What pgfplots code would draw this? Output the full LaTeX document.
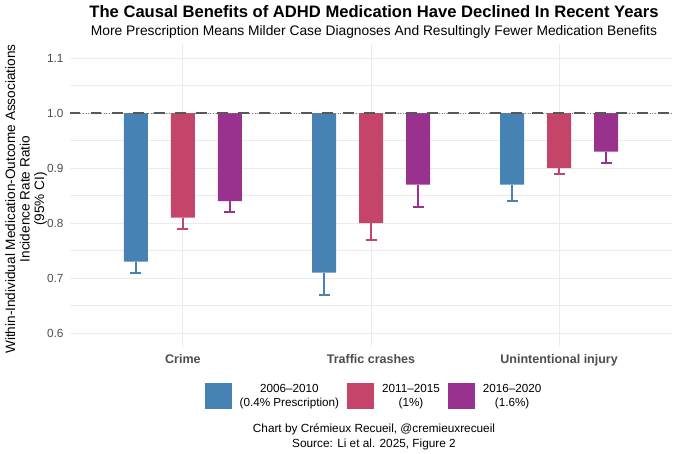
\documentclass[border=0pt]{standalone}
\usepackage{fontspec}
\setmainfont{Liberation Sans}
\usepackage{pgfplots}
\usepackage{pgfplotstable}
\pgfplotsset{compat=1.18}
\definecolor{cblue}{RGB}{70,130,180}
\definecolor{cred}{RGB}{196,69,105}
\definecolor{cpurp}{RGB}{153,50,142}
\definecolor{gridc}{RGB}{235,235,235}
\definecolor{tickc}{RGB}{77,77,77}
\definecolor{refc}{RGB}{88,88,88}
\pgfplotstableread{
x v lo
1 0.73 0.71
2 0.71 0.67
3 0.87 0.84
}\tabA
\pgfplotstableread{
x v lo
1 0.81 0.79
2 0.80 0.77
3 0.90 0.89
}\tabB
\pgfplotstableread{
x v lo
1 0.84 0.82
2 0.87 0.83
3 0.93 0.91
}\tabC
\begin{document}
\begin{tikzpicture}[x=1pt,y=1pt]
\path[use as bounding box] (0,0) rectangle (680,453);
\begin{axis}[
 at={(70pt,106.25pt)}, anchor=south west,
 scale only axis, width=602pt, height=302.5pt,
 xmin=0.4, xmax=3.6, ymin=-0.425, ymax=0.125,
 ybar=23pt, bar width=24pt,
 xtick={1,2,3}, xticklabels={Crime,Traffic crashes,Unintentional injury},
 ytick={-0.4,-0.3,-0.2,-0.1,0,0.1}, yticklabels={0.6,0.7,0.8,0.9,1.0,1.1},
 minor ytick={-0.35,-0.25,-0.15,-0.05,0.05},
 xmajorgrids, ymajorgrids, yminorgrids,
 major grid style={gridc, line width=0.9pt},
 minor grid style={gridc, line width=0.5pt},
 axis line style={draw=none}, tick style={draw=none}, minor tick style={draw=none},
 /pgf/number format/assume math mode=true,
 xticklabel style={font=\bfseries\fontsize{12.5}{14}\selectfont, text=tickc},
 yticklabel style={font=\fontsize{11.8}{13}\selectfont, text=tickc, xshift=-3pt},
 ylabel={Within-Individual Medication-Outcome Associations\\Incidence Rate Ratio\\(95\% CI)},
 ylabel style={at={(axis description cs:-0.073,0.488)}, anchor=center, align=center, font=\fontsize{13.6}{14.5}\selectfont},
 legend columns=3,
 legend style={at={(axis description cs:0.505,-0.163)}, anchor=center, draw=none, fill=none,
   cells={align=center, font=\fontsize{11.7}{13.5}\selectfont},
   /tikz/every odd column/.append style={column sep=6pt},
   /tikz/every even column/.append style={column sep=6pt}},
]
\addplot[fill=cblue, draw=none,
  legend image code/.code={\fill[cblue] (0pt,-13pt) rectangle (27pt,13pt);},
  error bars/.cd, y dir=minus, y explicit,
  error bar style={cblue, line width=2pt},
  error mark options={cblue, line width=2pt, mark size=5.5pt, rotate=90}]
  table[x=x, y expr=\thisrow{v}-1, y error expr=\thisrow{v}-\thisrow{lo}] {\tabA};
\addlegendentry{2006–2010\\(0.4\% Prescription)}
\addplot[fill=cred, draw=none,
  legend image code/.code={\fill[cred] (0pt,-13pt) rectangle (27pt,13pt);},
  error bars/.cd, y dir=minus, y explicit,
  error bar style={cred, line width=2pt},
  error mark options={cred, line width=2pt, mark size=5.5pt, rotate=90}]
  table[x=x, y expr=\thisrow{v}-1, y error expr=\thisrow{v}-\thisrow{lo}] {\tabB};
\addlegendentry{2011–2015\\(1\%)}
\addplot[fill=cpurp, draw=none,
  legend image code/.code={\fill[cpurp] (0pt,-13pt) rectangle (27pt,13pt);},
  error bars/.cd, y dir=minus, y explicit,
  error bar style={cpurp, line width=2pt},
  error mark options={cpurp, line width=2pt, mark size=5.5pt, rotate=90}]
  table[x=x, y expr=\thisrow{v}-1, y error expr=\thisrow{v}-\thisrow{lo}] {\tabC};
\addlegendentry{2016–2020\\(1.6\%)}
\addplot[sharp plot, forget plot, refc!80, line width=1pt, dash pattern=on 1pt off 1.6pt]
  coordinates {(0.4,0) (3.6,0)};
\addplot[sharp plot, forget plot, refc, line width=2.6pt, dash pattern=on 10.5pt off 10.5pt]
  coordinates {(0.4,0) (3.6,0)};
\end{axis}
\node[font=\bfseries\fontsize{16.6}{19}\selectfont] at (374,441) {The Causal Benefits of ADHD Medication Have Declined In Recent Years};
\node[font=\fontsize{13.8}{16}\selectfont] at (374,421) {More Prescription Means Milder Case Diagnoses And Resultingly Fewer Medication Benefits};
\node[font=\fontsize{11.8}{14.5}\selectfont, align=center] at (374,16) {Chart by Crémieux Recueil, @cremieuxrecueil\\Source: Li et al. 2025, Figure 2};
\end{tikzpicture}
\end{document}
